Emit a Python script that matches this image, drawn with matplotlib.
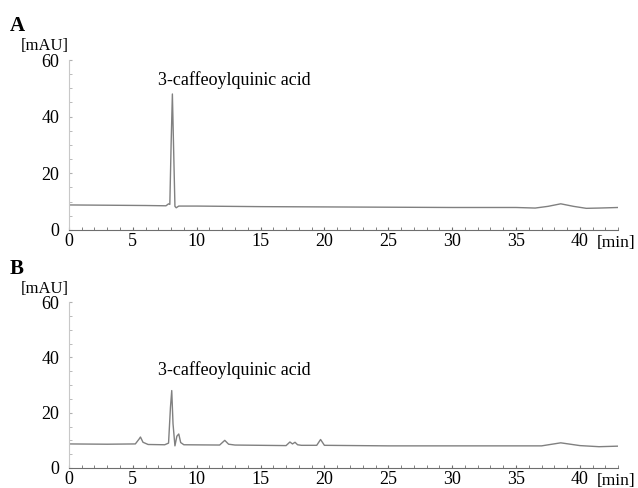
import matplotlib.pyplot as plt
from matplotlib.ticker import MultipleLocator

plt.rcParams['font.family'] = ['Liberation Serif', 'DejaVu Serif']

# chromatogram A (standard) - time [min], absorbance [mAU]
time_a = [0, 3, 6, 7.6, 7.8, 7.9, 8.0, 8.1, 8.2, 8.3, 8.4, 8.6, 10, 15, 20, 25, 30,
          35, 36.5, 37.5, 38.5, 39.5, 40.5, 41.5, 43]
abs_a = [8.8, 8.7, 8.6, 8.5, 9.2, 9.0, 30, 48, 28, 8.3, 7.8, 8.4, 8.4, 8.2, 8.1, 8.0, 7.9,
         7.9, 7.7, 8.3, 9.2, 8.3, 7.6, 7.7, 7.9]

# chromatogram B (sample)
time_b = [0, 3, 5.2, 5.5, 5.6, 5.8, 6.2, 7.5, 7.8, 7.95, 8.05, 8.15, 8.3, 8.45, 8.6,
          8.75, 9.0, 11.8, 12.2, 12.5, 13, 17.0, 17.3, 17.5, 17.7, 17.9, 18.2, 19.4, 19.7,
          20.0, 25, 30, 35, 37.0, 38.5, 40, 41.5, 43]
abs_b = [8.7, 8.6, 8.7, 10.5, 11.2, 9.3, 8.5, 8.4, 9.0, 22, 28, 16, 8.0, 11.5, 12.3,
         9.2, 8.4, 8.3, 10.0, 8.6, 8.3, 8.1, 9.4, 8.7, 9.3, 8.4, 8.2, 8.2, 10.3,
         8.2, 8.0, 8.0, 8.0, 8.0, 9.1, 8.1, 7.7, 7.9]

peak_label = '3-caffeoylquinic acid'
x_ticks = [0, 5, 10, 15, 20, 25, 30, 35, 40]
y_ticks = [0, 20, 40, 60]

fig = plt.figure(figsize=(6.38, 4.88), dpi=100)
ax_a = fig.add_axes([0.108, 0.529, 0.861, 0.348])
ax_b = fig.add_axes([0.108, 0.041, 0.861, 0.340])

panels = [(ax_a, time_a, abs_a, 'A', 53), (ax_b, time_b, abs_b, 'B', 35.4)]
for ax, t, a, letter, lab_y in panels:
    ax.plot(t, a, color='#808080', lw=1.0)
    ax.set_xlim(0, 43)
    ax.set_ylim(0, 60)
    ax.set_xticks(x_ticks)
    ax.set_yticks(y_ticks)
    ax.xaxis.set_minor_locator(MultipleLocator(1))
    ax.yaxis.set_minor_locator(MultipleLocator(5))
    for s in ['top', 'right']:
        ax.spines[s].set_visible(False)
    ax.spines['bottom'].set_color('#6e6e6e')
    ax.spines['left'].set_color('#c8c8c8')
    ax.tick_params(axis='x', which='both', direction='in', length=2, color='#6e6e6e',
                   labelsize=13, pad=2)
    ax.tick_params(axis='y', which='both', direction='in', length=2, color='#b0b0b0',
                   labelsize=13, pad=7)
    ax.text(7.0, lab_y, peak_label, fontsize=13, va='center')
    ax.text(-4.6, 72, letter, fontsize=15, fontweight='bold', va='center', clip_on=False)
    ax.text(-3.8, 64.8, '[mAU]', fontsize=12, va='center', clip_on=False)
    ax.text(41.3, -4.6, '[min]', fontsize=12.5, va='center', clip_on=False)

fig.savefig('out.png', dpi=100)
